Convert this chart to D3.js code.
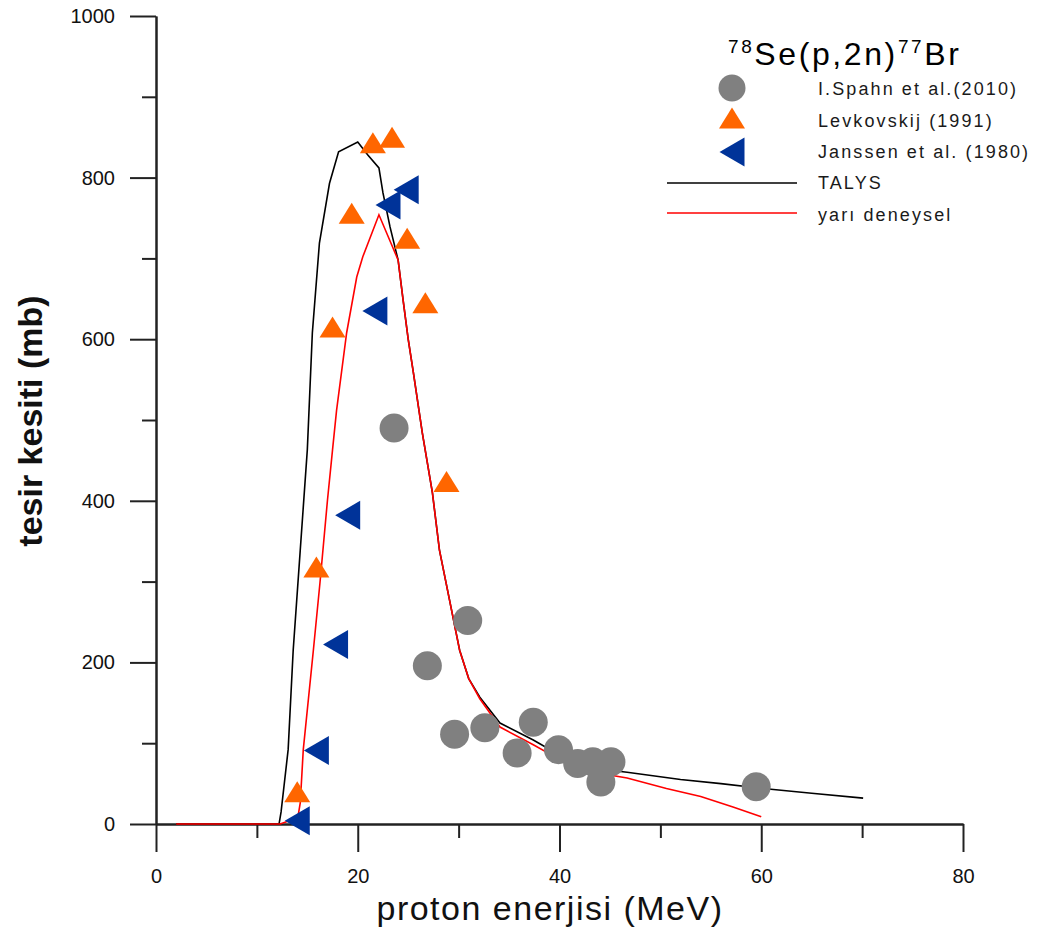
<!DOCTYPE html>
<html>
<head>
<meta charset="utf-8">
<script src="https://cdn.jsdelivr.net/npm/d3@7"></script>
<style>
  body { margin: 0; background: #fff; }
  svg { font-family: "Liberation Sans", Arial, sans-serif; }
</style>
</head>
<body>
<div id="chart"></div>
<script>
const svgWidth = 1038;
const svgHeight = 938;

// TALYS (black line)
const talysE = [2, 12.2, 12.4, 13.1, 13.6, 14.3, 15.0, 15.5, 16.2, 17.2, 18.1, 20.0, 21.0, 22.1, 22.5, 23.2, 24.0, 24.5, 25.0, 25.5, 26.4, 27.4, 28.1, 29.1, 30.1, 31.0, 32.1, 34.1, 37.4, 42, 46.7, 52, 56, 60.2, 65, 70.1];
const talysS = [0, 0, 15, 92, 215, 339, 463, 608, 719, 793, 832, 844, 828, 812, 781, 739, 698, 648, 600, 560, 484, 410, 339, 277, 215, 180, 157, 125, 104, 71, 64, 55, 50, 44, 38, 32];

// yari deneysel (red line)
const semiE = [2, 12.3, 13.0, 14.1, 14.3, 14.6, 15.6, 16.25, 17.0, 17.5, 17.9, 18.9, 19.9, 20.5, 22.1, 24.0, 24.5, 25.0, 25.5, 26.4, 27.4, 28.1, 29.1, 30.1, 31.0, 32.1, 34.1, 37.4, 40, 42, 46.7, 50.6, 54, 57.2, 60];
const semiS = [0, 0, 3, 11, 26, 92, 215, 298, 401, 463, 512, 608, 677, 702, 754, 698, 648, 600, 560, 484, 410, 339, 277, 215, 180, 155, 120, 98, 80, 67, 57, 44, 34, 21, 9];

// I.Spahn et al.(2010)
const spahnE = [23.6, 26.9, 30.9, 29.6, 32.6, 35.8, 37.4, 39.9, 41.8, 43.3, 44.1, 45.1, 59.5];
const spahnS = [490, 196, 252, 111, 119, 88, 126, 92, 75, 77, 52, 77, 46];

// Levkovskij (1991)
const levE = [14.0, 15.9, 17.5, 19.4, 21.5, 23.4, 24.9, 26.7, 28.8];
const levS = [40, 318, 615, 756, 843, 850, 725, 645, 424];

// Janssen et al. (1980)
const janE = [14.0, 15.9, 17.8, 19.0, 21.7, 23.0, 24.8];
const janS = [4, 91, 222, 382, 635, 766, 785];

const xMajor = [0, 20, 40, 60, 80];
const xMinor = [10, 30, 50, 70];
const yMajor = [0, 200, 400, 600, 800, 1000];
const yMinor = [100, 300, 500, 700, 900];

const legendLabels = ['I.Spahn et al.(2010)', 'Levkovskij (1991)', 'Janssen et al. (1980)', 'TALYS', 'yarı deneysel'];

const svg = d3.select('#chart')
  .append('svg')
  .attr('width', svgWidth)
  .attr('height', svgHeight);

const x = d3.scaleLinear().domain([0, 80]).range([156, 963]);
const y = d3.scaleLinear().domain([0, 1000]).range([824, 16]);

const axisColor = '#222';

// axes
const xMinorAxis = d3.axisBottom(x).tickValues(xMinor).tickSize(14).tickSizeOuter(0).tickFormat('');
const xAxis = d3.axisBottom(x).tickValues(xMajor).tickSize(28).tickSizeOuter(0).tickPadding(17).tickFormat(d3.format('d'));
const yMinorAxis = d3.axisLeft(y).tickValues(yMinor).tickSize(14).tickSizeOuter(0).tickFormat('');
const yAxis = d3.axisLeft(y).tickValues(yMajor).tickSize(26).tickSizeOuter(0).tickPadding(15).tickFormat(d3.format('d'));

function styleAxis(g) {
  g.selectAll('path, line').attr('stroke', axisColor).attr('stroke-width', 2);
  g.selectAll('text').attr('fill', '#111').style('font-size', '20px')
    .style('font-family', '"Liberation Sans", Arial, sans-serif');
}

svg.append('g').attr('transform', 'translate(0,824)').call(xMinorAxis).call(styleAxis);
svg.append('g').attr('transform', 'translate(0,824)').call(xAxis).call(styleAxis);
svg.append('g').attr('transform', 'translate(156,0)').call(yMinorAxis).call(styleAxis);
svg.append('g').attr('transform', 'translate(156,0)').call(yAxis).call(styleAxis);

// lines
const line = d3.line().x(d => x(d[0])).y(d => y(d[1]));

svg.append('path')
  .datum(talysE.map((e, i) => [e, talysS[i]]))
  .attr('d', line)
  .attr('fill', 'none')
  .attr('stroke', '#000')
  .attr('stroke-width', 1.6);

svg.append('path')
  .datum(semiE.map((e, i) => [e, semiS[i]]))
  .attr('d', line)
  .attr('fill', 'none')
  .attr('stroke', '#ff0000')
  .attr('stroke-width', 1.6);

// marker shapes, centred on the point
const upTri = 'M0,-10.5 L13,10.5 L-13,10.5 Z';
const leftTri = 'M-12.5,0 L12.5,-14.5 L12.5,14.5 Z';

svg.append('g').selectAll('circle')
  .data(spahnE.map((e, i) => [e, spahnS[i]]))
  .enter()
  .append('circle')
  .attr('cx', d => x(d[0]))
  .attr('cy', d => y(d[1]))
  .attr('r', 14.5)
  .attr('fill', '#808080');

svg.append('g').selectAll('path')
  .data(levE.map((e, i) => [e, levS[i]]))
  .enter()
  .append('path')
  .attr('d', upTri)
  .attr('transform', d => `translate(${x(d[0])},${y(d[1])})`)
  .attr('fill', '#ff6600');

svg.append('g').selectAll('path')
  .data(janE.map((e, i) => [e, janS[i]]))
  .enter()
  .append('path')
  .attr('d', leftTri)
  .attr('transform', d => `translate(${x(d[0])},${y(d[1])})`)
  .attr('fill', '#003399');

// axis titles
svg.append('text')
  .attr('transform', 'translate(42,421) rotate(-90)')
  .attr('text-anchor', 'middle')
  .style('font-size', '34px')
  .style('font-weight', 'bold')
  .attr('fill', '#111')
  .text('tesir kesiti (mb)');

svg.append('text')
  .attr('x', 550)
  .attr('y', 920)
  .attr('text-anchor', 'middle')
  .style('font-size', '34px')
  .style('letter-spacing', '1.5px')
  .attr('fill', '#111')
  .text('proton enerjisi (MeV)');

// legend
const title = svg.append('text')
  .attr('x', 728)
  .attr('y', 65)
  .attr('fill', '#000')
  .style('letter-spacing', '2.6px');
title.append('tspan').attr('dy', -12).style('font-size', '19px').text('78');
title.append('tspan').attr('dy', 12).style('font-size', '32px').text('Se(p,2n)');
title.append('tspan').attr('dy', -12).style('font-size', '19px').text('77');
title.append('tspan').attr('dy', 12).style('font-size', '32px').text('Br');

const legendY = [95, 127, 158, 189, 221];
svg.append('g').selectAll('text')
  .data(legendLabels)
  .enter()
  .append('text')
  .attr('x', 818)
  .attr('y', (d, i) => legendY[i])
  .style('font-size', '18px')
  .style('letter-spacing', '2.1px')
  .attr('fill', '#1a1a1a')
  .text(d => d);

svg.append('circle').attr('cx', 732).attr('cy', 88).attr('r', 13.5).attr('fill', '#808080');
svg.append('path').attr('d', upTri).attr('transform', 'translate(732,118)').attr('fill', '#ff6600');
svg.append('path').attr('d', leftTri).attr('transform', 'translate(732,152)').attr('fill', '#003399');
svg.append('line').attr('x1', 667).attr('x2', 797).attr('y1', 183).attr('y2', 183)
  .attr('stroke', '#000').attr('stroke-width', 1.6);
svg.append('line').attr('x1', 667).attr('x2', 797).attr('y1', 213).attr('y2', 213)
  .attr('stroke', '#ff0000').attr('stroke-width', 1.6);
</script>
</body>
</html>
